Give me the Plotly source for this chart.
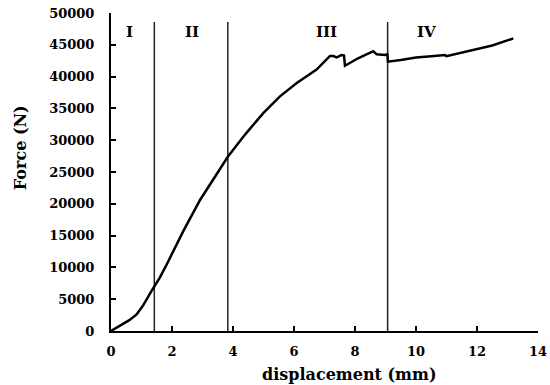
import plotly.graph_objects as go

displacement = [0, 0.3, 0.6, 0.84, 1.05, 1.33, 1.6, 1.83, 2.37, 2.92, 3.47, 3.83, 4.3, 4.45, 5.0,
                5.54, 6.09, 6.74, 7.18, 7.29, 7.4, 7.56, 7.64, 7.67, 8.1, 8.4,
                8.6, 8.71, 8.98, 9.06, 9.08, 9.5, 10.0, 10.5, 10.95, 11.0, 11.5, 12.0, 12.5, 13.19]
force = [0, 800, 1700, 2600, 4000, 6300, 8400, 10500, 15700, 20600, 24800, 27400, 30300, 31200, 34300,
         36900, 39000, 41100, 43240, 43240, 43030, 43400, 43300, 41700, 42880, 43500,
         44000, 43500, 43400, 43500, 42350, 42600, 43000, 43200, 43400, 43200, 43800, 44300, 44900, 46000]

stage_bounds = [1.42, 3.83, 9.07]
stage_top = 48600
stage_labels = ["I", "II", "III", "IV"]
stage_label_x = [0.62, 2.66, 7.08, 10.36]
stage_label_y = 47000

x_ticks = [0, 2, 4, 6, 8, 10, 12, 14]
y_ticks = [0, 5000, 10000, 15000, 20000, 25000, 30000, 35000, 40000, 45000, 50000]

x_title = "displacement (mm)"
y_title = "Force (N)"

font_family = "DejaVu Serif, serif"

fig = go.Figure()
for xb in stage_bounds:
    fig.add_trace(go.Scatter(x=[xb, xb], y=[0, stage_top], mode="lines",
                             line=dict(color="#222222", width=1.5), showlegend=False,
                             hoverinfo="skip"))
fig.add_trace(go.Scatter(x=displacement, y=force, mode="lines",
                         line=dict(color="black", width=2.5), showlegend=False))

for lab, lx in zip(stage_labels, stage_label_x):
    fig.add_annotation(x=lx, y=stage_label_y, text="<b>%s</b>" % lab, showarrow=False,
                       font=dict(family=font_family, size=15, color="black"))

fig.add_annotation(xref="paper", yref="paper", x=0.5585, y=-0.138, text="<b>%s</b>" % x_title,
                   showarrow=False, xanchor="center", yanchor="middle",
                   font=dict(family=font_family, size=16, color="black"))
fig.add_annotation(xref="paper", yref="paper", x=-0.213, y=0.575, text="<b>%s</b>" % y_title,
                   showarrow=False, xanchor="center", yanchor="middle", textangle=-90,
                   font=dict(family=font_family, size=16, color="black"))

fig.update_layout(
    width=550, height=385,
    margin=dict(l=111, r=12, t=13, b=54),
    plot_bgcolor="white", paper_bgcolor="white",
    font=dict(family=font_family, size=13, color="black"),
)
fig.update_xaxes(range=[0, 14], tickvals=x_ticks, ticktext=["<b>%d</b>" % v for v in x_ticks],
                 automargin=False, ticklabelstandoff=7,
                 showgrid=False, zeroline=False, showline=True, linecolor="black", linewidth=2,
                 ticks="inside", ticklen=5, tickwidth=2, tickcolor="black")
fig.update_yaxes(range=[0, 50000], tickvals=y_ticks, ticktext=["<b>%d</b>" % v for v in y_ticks],
                 automargin=False, ticklabelstandoff=12,
                 showgrid=False, zeroline=False, showline=True, linecolor="black", linewidth=2,
                 ticks="inside", ticklen=5, tickwidth=2, tickcolor="black")

fig.write_html("out.html", config={"displayModeBar": False},
               post_script="document.body.style.margin='0';document.body.style.padding='0';")
